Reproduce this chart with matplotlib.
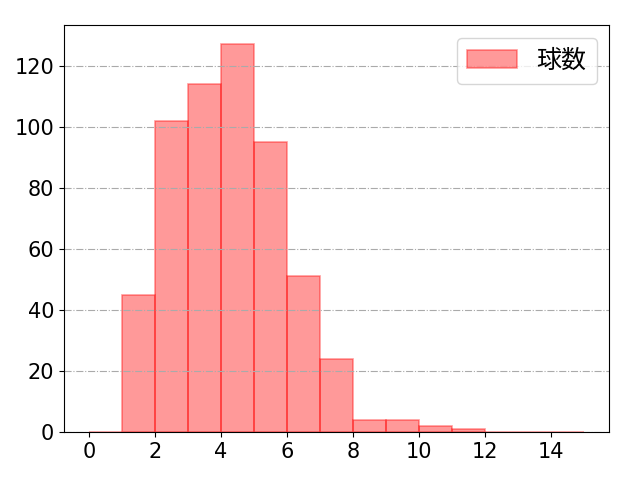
import matplotlib
matplotlib.use("Agg")
import matplotlib.pyplot as plt
import numpy as np

plt.rcParams['font.family'] = ['DejaVu Sans', 'Noto Sans CJK JP']

bin_edges = list(range(0, 16))
counts = [0, 45, 102, 114, 127, 95, 51, 24, 4, 4, 2, 1, 0, 0, 0]
label = "球数"

fig = plt.figure(figsize=(6.4, 4.8), dpi=100)
ax = fig.add_axes([64/640, 1-432/480, (609-64)/640, (432-25)/480])
ax.hist(bin_edges[:-1], bins=bin_edges, weights=counts, color='red', alpha=0.4,
        edgecolor='red', linewidth=1.2, label=label)
ax.grid(axis='y', linestyle='-.', color='#aaaaaa', linewidth=0.8)
ax.set_xticks(range(0, 16, 2))
ax.tick_params(labelsize=15)
leg = ax.legend(prop={'family': ['Noto Sans CJK JP'], 'size': 18}, loc='upper right')
fig.savefig("out.png")
